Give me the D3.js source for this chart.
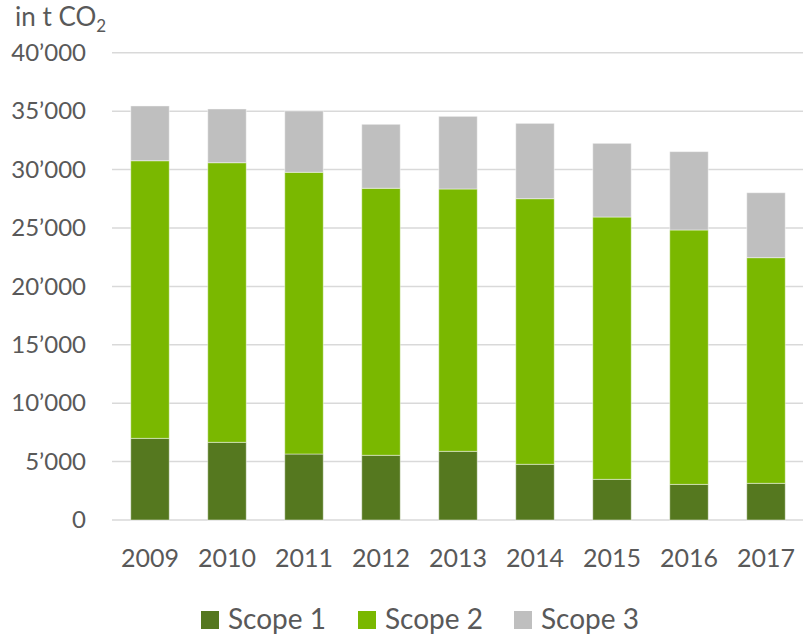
<!DOCTYPE html>
<html>
<head>
<meta charset="utf-8">
<script src="https://cdn.jsdelivr.net/npm/d3@7"></script>
<style>
  body { margin: 0; background: #fff; }
  text { font-family: Lato, "Open Sans", sans-serif; fill: #595959; }
</style>
</head>
<body>
<script>
// chart data
var years = ['2009', '2010', '2011', '2012', '2013', '2014', '2015', '2016', '2017'];
var scope1 = [6990, 6650, 5650, 5540, 5880, 4770, 3480, 3050, 3140];
var scope2 = [23770, 23940, 24120, 22860, 22460, 22740, 22460, 21780, 19320];
var scope3 = [4690, 4600, 5250, 5480, 6220, 6450, 6310, 6710, 5560];
var seriesNames = ['Scope 1', 'Scope 2', 'Scope 3'];
var yTicks = [0, 5000, 10000, 15000, 20000, 25000, 30000, 35000, 40000];

var colors = ['#55781f', '#7ab800', '#bfbfbf'];

var W = 803, H = 637;
var plotLeft = 111.5, plotRight = 804.5, plotTop = 52.8, plotBottom = 520;

var locale = d3.formatLocale({decimal: '.', thousands: '\u2019', grouping: [3], currency: ['', '']});
var fmt = locale.format(',d');

var svg = d3.select('body').append('svg')
	.attr('width', W)
	.attr('height', H);

var xScale = d3.scaleBand()
	.domain(years)
	.range([plotLeft, plotRight])
	.paddingInner(0.5)
	.paddingOuter(0.25);

var yScale = d3.scaleLinear()
	.domain([0, 40000])
	.range([plotBottom, plotTop]);

// gridlines
svg.append('g').attr('id', 'grid')
	.selectAll('line')
	.data(yTicks)
	.enter()
	.append('line')
	.attr('x1', 112).attr('x2', W)
	.attr('y1', d => yScale(d)).attr('y2', d => yScale(d))
	.attr('stroke', '#d9d9d9')
	.attr('stroke-width', 1.5);

// y axis labels
var yAxis = d3.axisLeft(yScale).tickValues(yTicks).tickFormat(fmt).tickSize(0).tickPadding(0);
svg.append('g').attr('id', 'yaxis')
	.attr('transform', 'translate(86,0)')
	.call(yAxis)
	.call(g => g.select('.domain').remove())
	.selectAll('text')
	.attr('font-family', 'Lato, sans-serif')
	.attr('font-size', '24px')
	.attr('fill', '#595959');

// stack the series
var rows = years.map(function(y, i){
	return {year: y, s0: scope1[i], s1: scope2[i], s2: scope3[i]};
});
var stack = d3.stack().keys(['s0', 's1', 's2']);
var layers = stack(rows);

svg.append('g').attr('id', 'bars')
	.selectAll('g')
	.data(layers)
	.enter()
	.append('g')
	.attr('fill', (d, i) => colors[i])
	.selectAll('rect')
	.data(d => d)
	.enter()
	.append('rect')
	.attr('x', d => xScale(d.data.year))
	.attr('width', xScale.bandwidth())
	.attr('y', d => yScale(d[1]))
	.attr('height', d => yScale(d[0]) - yScale(d[1]))
	.attr('stroke', '#ffffff')
	.attr('stroke-opacity', 0.45)
	.attr('stroke-width', 1);

// x axis labels
var xAxis = d3.axisBottom(xScale).tickSize(0).tickPadding(0);
svg.append('g').attr('id', 'xaxis')
	.attr('transform', 'translate(0,549)')
	.call(xAxis)
	.call(g => g.select('.domain').remove())
	.selectAll('text')
	.attr('font-family', 'Lato, sans-serif')
	.attr('font-size', '25px')
	.attr('fill', '#595959');

// title
var title = svg.append('text')
	.attr('x', 15)
	.attr('y', 26)
	.attr('font-size', '26px');
title.append('tspan').text('in t CO');
title.append('tspan').text('2').attr('font-size', '17px').attr('dy', 6);

// legend
var legendX = [201, 358, 514];
var legend = svg.append('g').attr('id', 'legend')
	.selectAll('g')
	.data(seriesNames)
	.enter()
	.append('g')
	.attr('transform', (d, i) => 'translate(' + legendX[i] + ',611)');

legend.append('rect')
	.attr('width', 18).attr('height', 18)
	.attr('fill', (d, i) => colors[i]);

legend.append('text')
	.attr('x', 27)
	.attr('y', 18)
	.attr('font-size', '28px')
	.text(d => d);
</script>
</body>
</html>
